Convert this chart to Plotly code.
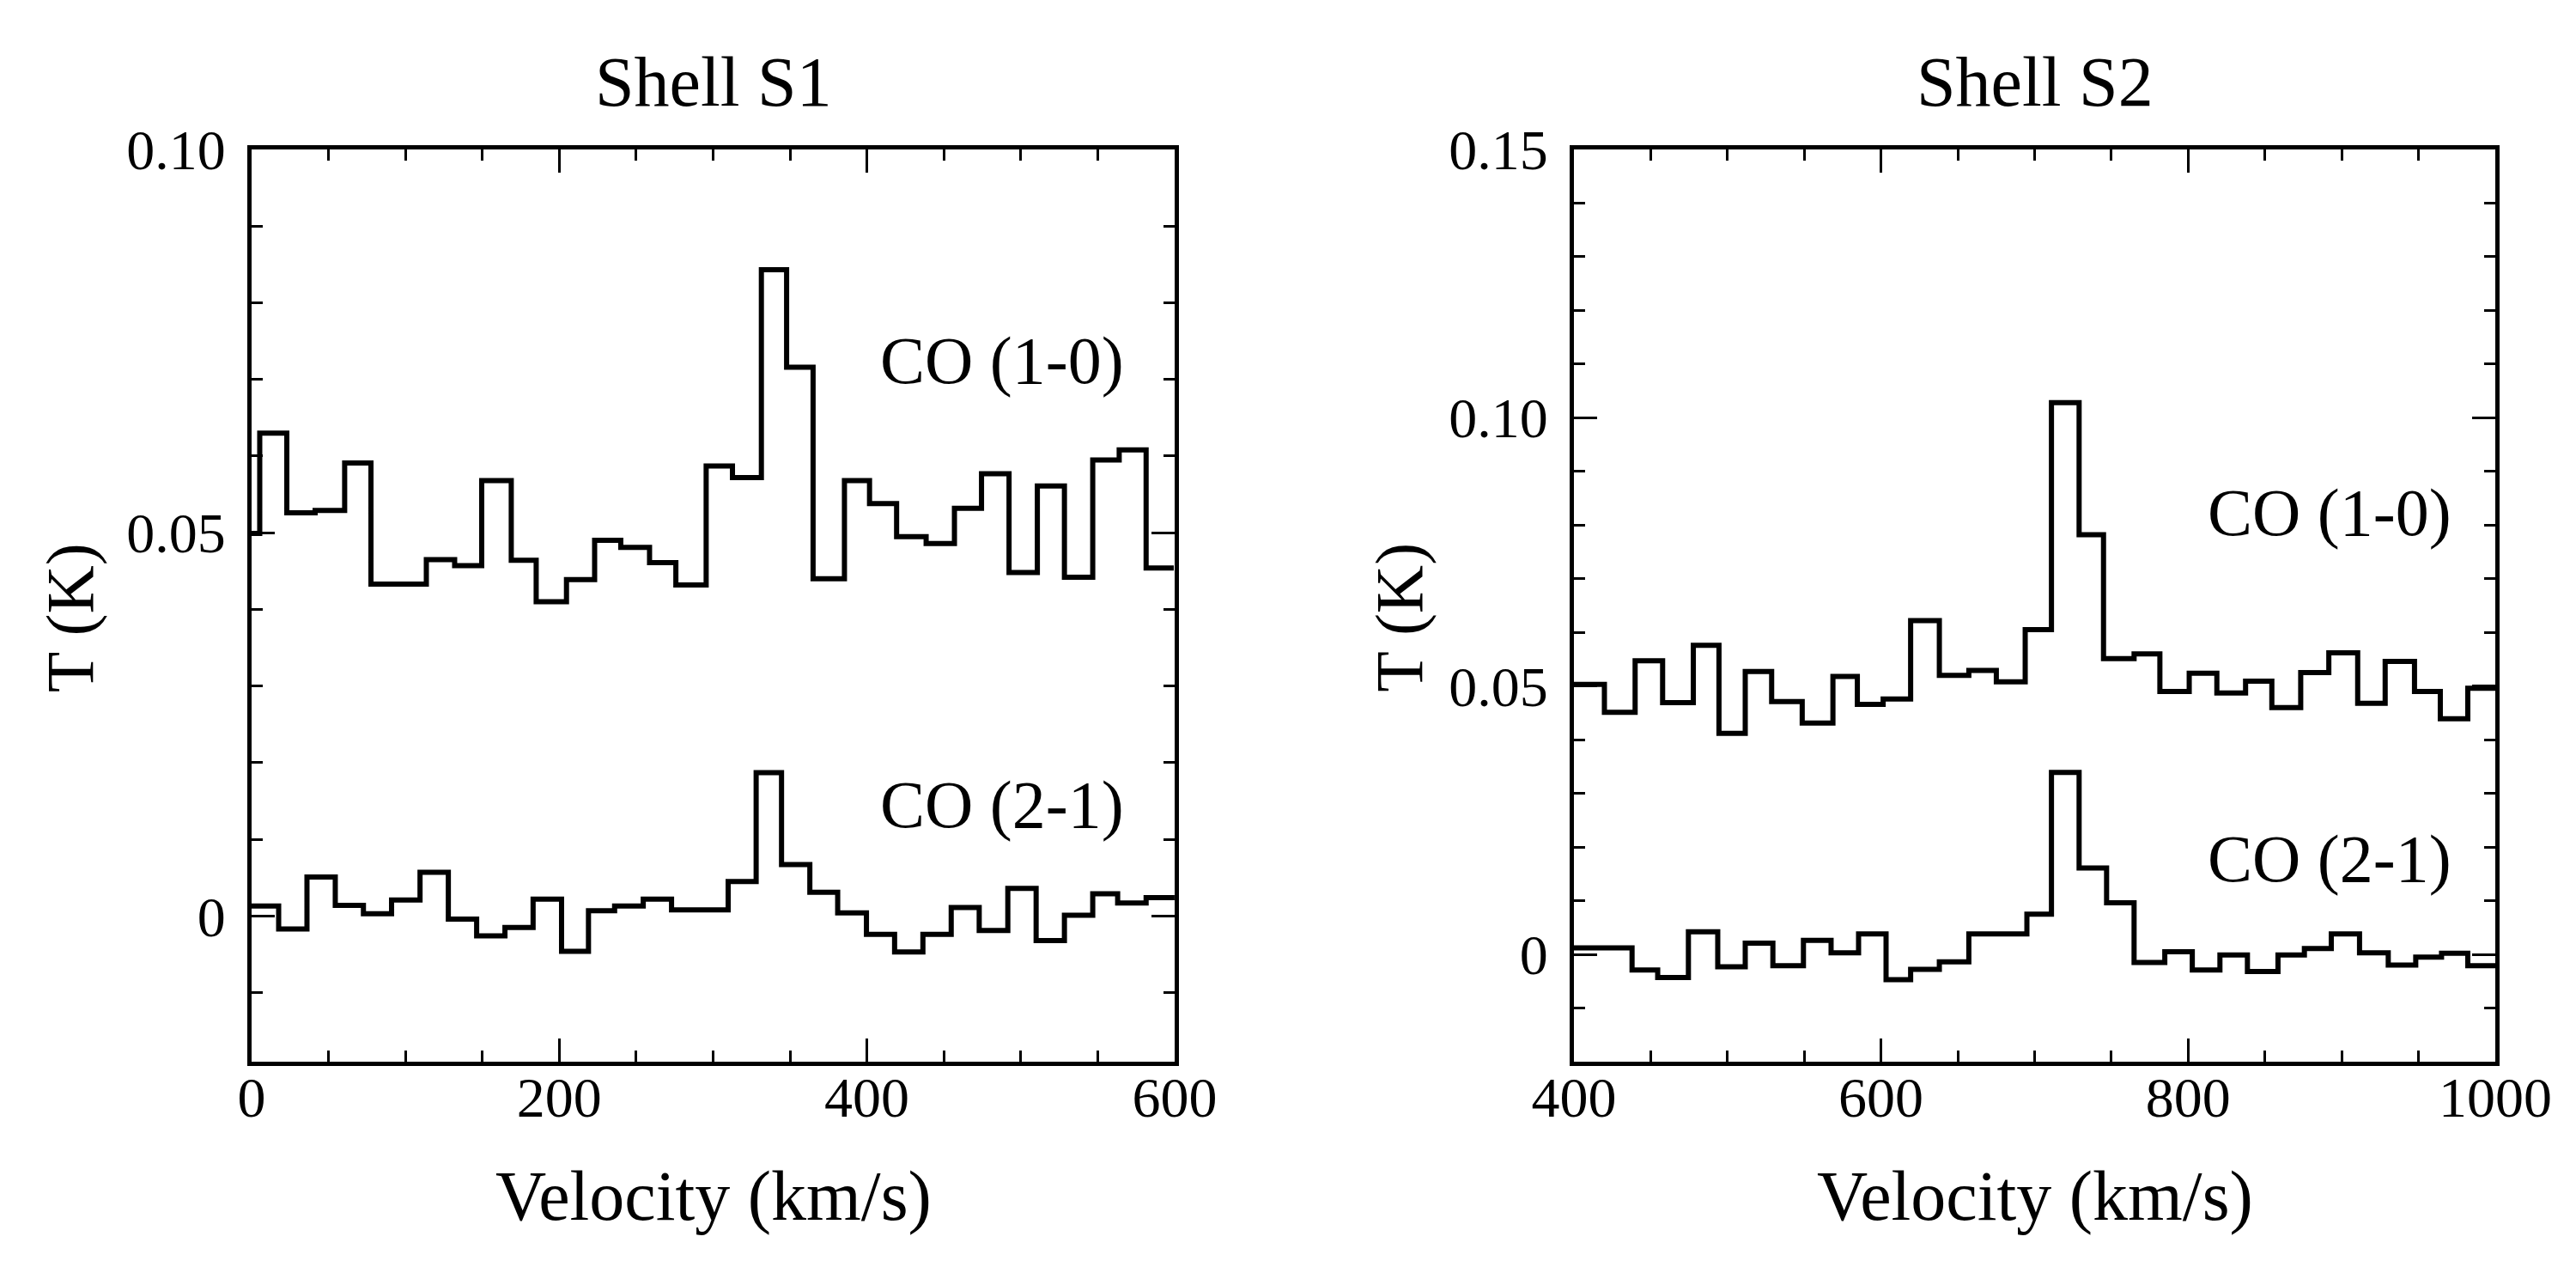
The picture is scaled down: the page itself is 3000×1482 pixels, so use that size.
import plotly.graph_objects as go
from plotly.subplots import make_subplots

# Shell S1 spectra: channel edges (km/s) and antenna temperature (K)
s1_co10_edges = [-12.7, 5.3, 22.9, 41.3, 60.5, 77.6, 95.6, 113.6, 132.0, 149.6, 168.8,
                 185.0, 204.7, 223.0, 240.0, 258.7, 275.8, 295.5, 312.6, 331.4, 347.8,
                 365.0, 385.4, 401.7, 419.3, 438.5, 456.9, 474.5, 492.4, 510.8, 528.4,
                 546.8, 564.0, 581.5, 599.5]
s1_co10_temp = [0.0499, 0.0630, 0.0526, 0.0529, 0.0591, 0.0433, 0.0433, 0.0465, 0.0457,
                0.0568, 0.0464, 0.0410, 0.0439, 0.0490, 0.0481, 0.0461, 0.0432, 0.0587,
                0.0572, 0.0843, 0.0716, 0.0440, 0.0568, 0.0538, 0.0495, 0.0486, 0.0532,
                0.0577, 0.0448, 0.0561, 0.0442, 0.0595, 0.0608, 0.0454]

s1_co21_edges = [-0.6, 17.6, 36.0, 54.4, 72.7, 91.0, 109.5, 127.9, 146.3, 164.7, 183.0,
                 201.5, 219.0, 236.0, 254.6, 273.0, 291.0, 309.8, 328.0, 344.5, 362.9,
                 381.0, 399.7, 418.0, 436.4, 454.8, 473.0, 491.6, 510.0, 528.4, 546.8,
                 563.0, 581.5, 600.0]
s1_co21_temp = [0.0013, -0.0017, 0.0051, 0.0014, 0.0003, 0.0021, 0.0057, -0.0004, -0.0026,
                -0.0015, 0.0022, -0.0046, 0.0007, 0.0013, 0.0022, 0.0008, 0.0008, 0.0045,
                0.0187, 0.0067, 0.0031, 0.0004, -0.0024, -0.0047, -0.0024, 0.0011, -0.0019,
                0.0036, -0.0032, 0.0001, 0.0029, 0.0017, 0.0024]

# Shell S2 spectra
s2_co10_edges = [383.6, 419.9, 439.9, 457.8, 477.8, 494.5, 511.6, 528.8, 548.7, 568.7,
                 584.6, 601.4, 619.3, 638.0, 657.2, 675.1, 693.9, 711.0, 729.0, 744.9,
                 764.8, 781.6, 800.7, 818.7, 837.4, 854.5, 873.3, 891.6, 910.4, 928.3,
                 947.4, 964.2, 982.1, 1000.0]
s2_co10_temp = [0.0503, 0.0451, 0.0547, 0.0469, 0.0576, 0.0412, 0.0527, 0.0471, 0.0431,
                0.0518, 0.0466, 0.0476, 0.0622, 0.0520, 0.0529, 0.0508, 0.0605, 0.1028,
                0.0782, 0.0551, 0.0560, 0.0490, 0.0524, 0.0487, 0.0509, 0.0460, 0.0525,
                0.0562, 0.0468, 0.0546, 0.0490, 0.0439, 0.0496]

s2_co21_edges = [383.6, 419.8, 437.9, 454.6, 474.6, 493.7, 511.6, 529.6, 549.5, 567.5,
                 585.4, 603.3, 619.3, 638.0, 657.2, 676.0, 695.0, 711.0, 729.0, 746.9,
                 764.8, 784.8, 802.7, 820.7, 838.6, 858.5, 875.7, 893.2, 911.6, 930.3,
                 948.2, 965.0, 982.1, 1000.0]
s2_co21_temp = [0.0012, 0.0012, -0.0029, -0.0043, 0.0042, -0.0023, 0.0021, -0.0021, 0.0026,
                0.0003, 0.0038, -0.0047, -0.0028, -0.0014, 0.0038, 0.0038, 0.0075, 0.0339,
                0.0161, 0.0096, -0.0015, 0.0005, -0.0029, -0.0001, -0.0032, -0.0001, 0.0011,
                0.0038, 0.0003, -0.0020, -0.0005, 0.0002, -0.0021]

s1_yticks = [0, 0.05, 0.10]
s1_yticktext = ["0", "0.05", "0.10"]
s2_yticks = [0, 0.05, 0.10, 0.15]
s2_yticktext = ["0", "0.05", "0.10", "0.15"]

FONT = "Liberation Serif, Times New Roman, serif"

fig = make_subplots(rows=1, cols=2)


def step(edges, temp):
    # histogram-style spectrum: hold each channel value across its bin
    return go.Scatter(x=edges, y=temp + [temp[-1]], mode="lines", line_shape="hv",
                      line=dict(color="black", width=6), showlegend=False, hoverinfo="skip")


fig.add_trace(step(s1_co10_edges, s1_co10_temp), row=1, col=1)
fig.add_trace(step(s1_co21_edges, s1_co21_temp), row=1, col=1)
fig.add_trace(step(s2_co10_edges, s2_co10_temp), row=1, col=2)
fig.add_trace(step(s2_co21_edges, s2_co21_temp), row=1, col=2)

common_ax = dict(showgrid=False, zeroline=False, showline=True, linecolor="black",
                 linewidth=5, mirror="ticks", ticks="inside", ticklen=27, tickwidth=3,
                 tickcolor="black", automargin=False,
                 tickfont=dict(family=FONT, size=66, color="black"))

fig.update_xaxes(common_ax)
fig.update_yaxes(common_ax)

fig.update_xaxes(domain=[0.095, 0.4533], range=[0, 600], tickmode="linear", tick0=0,
                 dtick=200, minor=dict(ticks="inside", ticklen=13, tickwidth=3,
                                       tickcolor="black", dtick=50, tick0=0),
                 ticklabelstandoff=-20, row=1, col=1)
fig.update_xaxes(domain=[0.6083, 0.966], range=[400, 1000], tickmode="linear", tick0=400,
                 dtick=200, minor=dict(ticks="inside", ticklen=13, tickwidth=3,
                                       tickcolor="black", dtick=50, tick0=400),
                 ticklabelstandoff=-20, row=1, col=2)

fig.update_yaxes(domain=[0.1714, 0.888], range=[-0.019, 0.10], tickvals=s1_yticks,
                 ticktext=s1_yticktext,
                 minor=dict(ticks="inside", ticklen=13, tickwidth=3, tickcolor="black",
                            dtick=0.01, tick0=0),
                 ticklabelstandoff=12, row=1, col=1)
fig.update_yaxes(domain=[0.1714, 0.888], range=[-0.02, 0.15], tickvals=s2_yticks,
                 ticktext=s2_yticktext,
                 minor=dict(ticks="inside", ticklen=13, tickwidth=3, tickcolor="black",
                            dtick=0.01, tick0=0),
                 ticklabelstandoff=12, row=1, col=2)

label_font = dict(family=FONT, size=78, color="black")
title_font = dict(family=FONT, size=82, color="black")

# panel titles and axis titles
for xc, name in [(0.2742, "Shell S1"), (0.7872, "Shell S2")]:
    fig.add_annotation(text=name, xref="paper", yref="paper", x=xc, y=0.941,
                       xanchor="center", yanchor="middle", showarrow=False, font=title_font)
    fig.add_annotation(text="Velocity (km/s)", xref="paper", yref="paper", x=xc, y=0.066,
                       xanchor="center", yanchor="middle", showarrow=False, font=title_font)
for xc in [0.0243, 0.5405]:
    fig.add_annotation(text="T (K)", xref="paper", yref="paper", x=xc, y=0.52,
                       xanchor="center", yanchor="middle", textangle=-90,
                       showarrow=False, font=dict(family=FONT, size=78, color="black"))

# line labels
fig.add_annotation(text="CO (1-0)", xref="x", yref="y", x=488, y=0.0725,
                   showarrow=False, font=label_font)
fig.add_annotation(text="CO (2-1)", xref="x", yref="y", x=488, y=0.0146,
                   showarrow=False, font=label_font)
fig.add_annotation(text="CO (1-0)", xref="x2", yref="y2", x=892, y=0.0823,
                   showarrow=False, font=label_font)
fig.add_annotation(text="CO (2-1)", xref="x2", yref="y2", x=892, y=0.0178,
                   showarrow=False, font=label_font)

fig.update_layout(width=3000, height=1482, autosize=False,
                  margin=dict(l=0, r=0, t=0, b=0),
                  paper_bgcolor="white", plot_bgcolor="white",
                  font=dict(family=FONT, color="black"))

fig.write_html("out.html")
